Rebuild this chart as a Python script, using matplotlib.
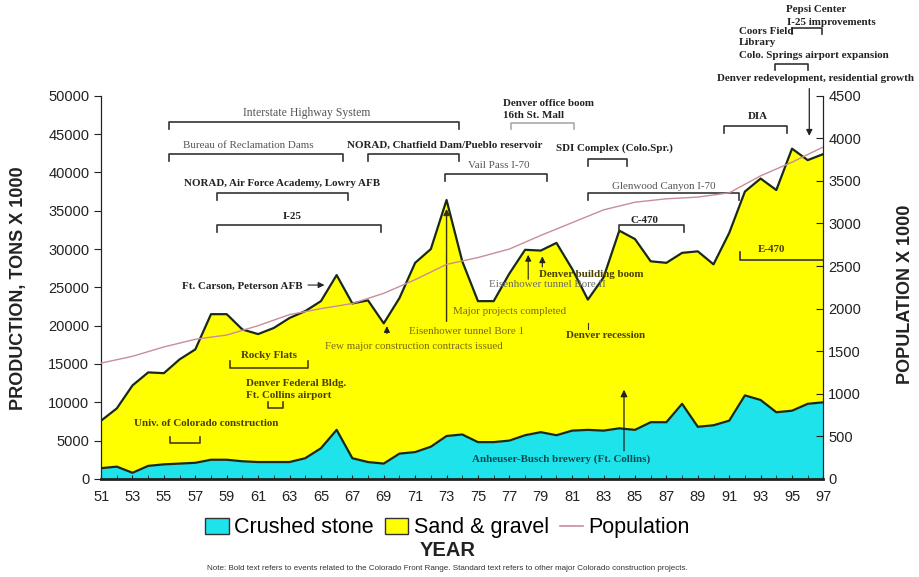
import matplotlib
matplotlib.use('Agg')
import matplotlib.pyplot as plt
from matplotlib.patches import Patch
from matplotlib.lines import Line2D

# production, tons x 1000
years = list(range(51, 98))
total_production = [7600, 9200, 12200, 13900, 13800, 15600, 16900, 21500, 21500, 19500,
                    18900, 19700, 21000, 21900, 23200, 26600, 22900, 23300, 20300, 23600,
                    28200, 30000, 36400, 28400, 23200, 23200, 26800, 29900, 29800, 30800,
                    27400, 23400, 26300, 32400, 31300, 28400, 28200, 29500, 29700, 28000,
                    32100, 37500, 39200, 37700, 43100, 41600, 42400]
crushed_stone = [1400, 1600, 800, 1700, 1900, 2000, 2100, 2500, 2500, 2300,
                 2200, 2200, 2200, 2700, 4000, 6400, 2700, 2200, 2000, 3300,
                 3500, 4200, 5600, 5800, 4800, 4800, 5000, 5700, 6100, 5700,
                 6300, 6400, 6300, 6600, 6400, 7400, 7400, 9800, 6800, 7000,
                 7600, 10900, 10300, 8700, 8900, 9800, 10000]
pop_years = [51, 53, 55, 57, 59, 61, 63, 65, 67, 69, 71, 73, 75, 77, 79, 81, 83, 85, 87, 89, 91, 93, 95, 97]
population = [1360, 1440, 1550, 1640, 1690, 1800, 1930, 2000, 2060, 2180, 2340, 2520,
              2600, 2700, 2860, 3010, 3160, 3250, 3290, 3310, 3360, 3560, 3720, 3900]
tick_years = list(range(51, 98, 2))

CYAN = '#1fe3ea'
YELLOW = '#ffff00'
POP = '#c98c9c'
SERIF = 'Liberation Serif'
SANS = 'Liberation Sans'

fig = plt.figure(figsize=(9.19, 5.77), dpi=100)
ax = fig.add_axes([0.110, 0.170, 0.786, 0.664])
ax2 = ax.twinx()

ax.fill_between(years, 0, crushed_stone, color=CYAN, lw=0, zorder=1)
ax.fill_between(years, crushed_stone, total_production, color=YELLOW, lw=0, zorder=1)
ax.plot(years, crushed_stone, color='#1a2a1a', lw=1.6, zorder=2)
ax.plot(years, total_production, color='#1a2a1a', lw=1.6, zorder=2)
ax2.plot(pop_years, population, color=POP, lw=1.0, zorder=3)

ax.set_xlim(51, 97)
ax.set_ylim(0, 50000)
ax2.set_ylim(0, 4500)
ax.set_yticks(range(0, 50001, 5000))
ax2.set_yticks(range(0, 4501, 500))
ax.set_xticks(tick_years)
ax.set_xticklabels([str(y) for y in tick_years])
ax.set_xticks(years, minor=True)
ax.tick_params(axis='x', which='both', direction='in', length=3, pad=8, labelsize=10.5, colors='#222')
ax.tick_params(axis='y', direction='out', length=5, labelsize=10.5, colors='#222')
ax2.tick_params(axis='y', direction='in', length=5, labelsize=10.5, colors='#222')
for a in (ax, ax2):
    for lab in a.get_xticklabels() + a.get_yticklabels():
        lab.set_family(SANS)
    a.spines['top'].set_visible(False)
    for s in ('left', 'right', 'bottom'):
        a.spines[s].set_color('#222')
ax.spines['bottom'].set_linewidth(2)
ax2.spines['bottom'].set_visible(False)
ax.set_zorder(ax2.get_zorder() - 1)
ax.patch.set_visible(True)
ax2.patch.set_visible(False)

fig.text(0.020, 0.50, 'PRODUCTION, TONS X 1000', rotation=90, ha='center', va='center',
         fontsize=13, fontweight='bold', family=SANS, color='#222')
fig.text(0.985, 0.49, 'POPULATION X 1000', rotation=90, ha='center', va='center',
         fontsize=13, fontweight='bold', family=SANS, color='#222')
fig.text(0.487, 0.046, 'YEAR', ha='center', va='center', fontsize=14.5, fontweight='bold',
         family=SANS, color='#222')
fig.text(0.487, 0.014, 'Note: Bold text refers to events related to the Colorado Front Range. '
         'Standard text refers to other major Colorado construction projects.',
         ha='center', va='center', fontsize=5.8, family=SANS, color='#333')

handles = [Patch(facecolor=CYAN, edgecolor='#333', label='Crushed stone'),
           Patch(facecolor=YELLOW, edgecolor='#333', label='Sand & gravel'),
           Line2D([0], [0], color=POP, lw=1.2, label='Population')]
fig.legend(handles=handles, loc='center', bbox_to_anchor=(0.487, 0.085), ncol=3, frameon=False,
           prop={'family': SANS, 'size': 15.5}, handlelength=1.1, handleheight=0.8,
           handletextpad=0.25, columnspacing=0.5)


def bracket(x0, x1, y, dy=900, color='#333'):
    ax.plot([x0, x0, x1, x1], [y - dy, y, y, y - dy], color=color, lw=1.2, clip_on=False, zorder=4)


def label(x, y, s, bold=True, color='#222', ha='center', size=7.9):
    ax.text(x, y, s, ha=ha, va='center', fontsize=size, family=SERIF, color=color,
            fontweight='bold' if bold else 'normal', zorder=5, clip_on=False)


GRAY = '#555'
OLIVE = '#4a4000'

label(64.1, 47800, 'Interstate Highway System', bold=False, color=GRAY, size=8.5)
bracket(55.3, 73.8, 46600)
label(60.4, 43500, 'Bureau of Reclamation Dams', bold=False, color=GRAY)
bracket(55.3, 66.4, 42400)
label(72.9, 43600, 'NORAD, Chatfield Dam/Pueblo reservoir')
bracket(68.0, 73.8, 42400)
label(62.5, 38500, 'NORAD, Air Force Academy, Lowry AFB')
bracket(58.4, 66.7, 37300)
label(63.2, 34300, 'I-25')
bracket(58.4, 68.8, 33100)
label(76.3, 40900, 'Vail Pass I-70', bold=False, color=GRAY)
bracket(72.9, 79.4, 39800)
label(76.6, 49000, 'Denver office boom', ha='left')
label(76.6, 47400, '16th St. Mall', ha='left')
bracket(77.1, 81.1, 46500, color='#aaa')
label(83.7, 43200, 'SDI Complex (Colo.Spr.)')
bracket(82.0, 84.5, 41800)
label(92.8, 47300, 'DIA')
bracket(90.7, 94.7, 46100)
label(86.8, 38100, 'Glenwood Canyon I-70', bold=False, color=GRAY)
bracket(82.0, 91.6, 37300)
label(85.6, 33700, 'C-470')
bracket(84.0, 88.1, 33100)
label(93.7, 30000, 'E-470', color=OLIVE)
ax.plot([91.7, 91.7, 97], [29600, 28600, 28600], color='#333', lw=1.2, zorder=4)

label(63.8, 25200, 'Ft. Carson, Peterson AFB', ha='right')
ax.annotate('', xy=(65.4, 25300), xytext=(64.0, 25300),
            arrowprops=dict(arrowstyle='-|>', color='#222', lw=0.8, mutation_scale=9))
label(61.7, 16100, 'Rocky Flats', color=OLIVE)
bracket(59.2, 64.2, 14500, dy=-900, color=OLIVE)
label(60.2, 12400, 'Denver Federal Bldg.', ha='left', color=OLIVE)
label(60.2, 10900, 'Ft. Collins airport', ha='left', color=OLIVE)
bracket(61.6, 62.6, 9200, dy=-800, color=OLIVE)
label(53.1, 7200, 'Univ. of Colorado construction', ha='left', color=OLIVE)
bracket(55.4, 57.3, 4700, dy=-800, color=OLIVE)

label(70.9, 17300, 'Few major construction contracts issued', bold=False, color='#7a6a10')
ax.annotate('', xy=(69.2, 20300), xytext=(69.2, 18600),
            arrowprops=dict(arrowstyle='-|>', color='#222', lw=0.8, mutation_scale=9))
label(74.3, 19200, 'Eisenhower tunnel Bore 1', bold=False, color='#7a6a10')
ax.annotate('', xy=(73.0, 35600), xytext=(73.0, 20200),
            arrowprops=dict(arrowstyle='-|>', color='#3a3000', lw=1.0, mutation_scale=9))
label(73.4, 21800, 'Major projects completed', bold=False, color='#7a6a10', ha='left')
label(79.4, 25400, 'Eisenhower tunnel Bore II', bold=False, color='#6a6a6a')
label(78.9, 26700, 'Denver building boom', ha='left', color=OLIVE)
ax.annotate('', xy=(78.2, 29600), xytext=(78.2, 25700),
            arrowprops=dict(arrowstyle='-|>', color='#222', lw=0.8, mutation_scale=9))
ax.annotate('', xy=(79.1, 29400), xytext=(79.1, 27300),
            arrowprops=dict(arrowstyle='-|>', color='#222', lw=0.8, mutation_scale=9))
label(83.1, 18700, 'Denver recession', color=OLIVE)
ax.plot([82.0, 82.0], [19600, 20400], color='#333', lw=0.8, zorder=4)
label(80.3, 2600, 'Anheuser-Busch brewery (Ft. Collins)', color='#0b4a50')
ax.annotate('', xy=(84.3, 12000), xytext=(84.3, 3300),
            arrowprops=dict(arrowstyle='-|>', color='#222', lw=0.9, mutation_scale=10))

# events above the plot
label(94.6, 61200, 'Pepsi Center', ha='left')
label(94.7, 59600, 'I-25 improvements', ha='left')
bracket(95.0, 96.9, 58900)
label(91.6, 58400, 'Coors Field', ha='left')
label(91.6, 56900, 'Library', ha='left')
label(91.6, 55300, 'Colo. Springs airport expansion', ha='left')
bracket(93.9, 96.0, 54200)
label(90.2, 52200, 'Denver redevelopment, residential growth', ha='left')
ax.annotate('', xy=(96.1, 44400), xytext=(96.1, 51300), annotation_clip=False,
            arrowprops=dict(arrowstyle='-|>', color='#222', lw=0.9, mutation_scale=9))

fig.savefig('out.png', dpi=100)
